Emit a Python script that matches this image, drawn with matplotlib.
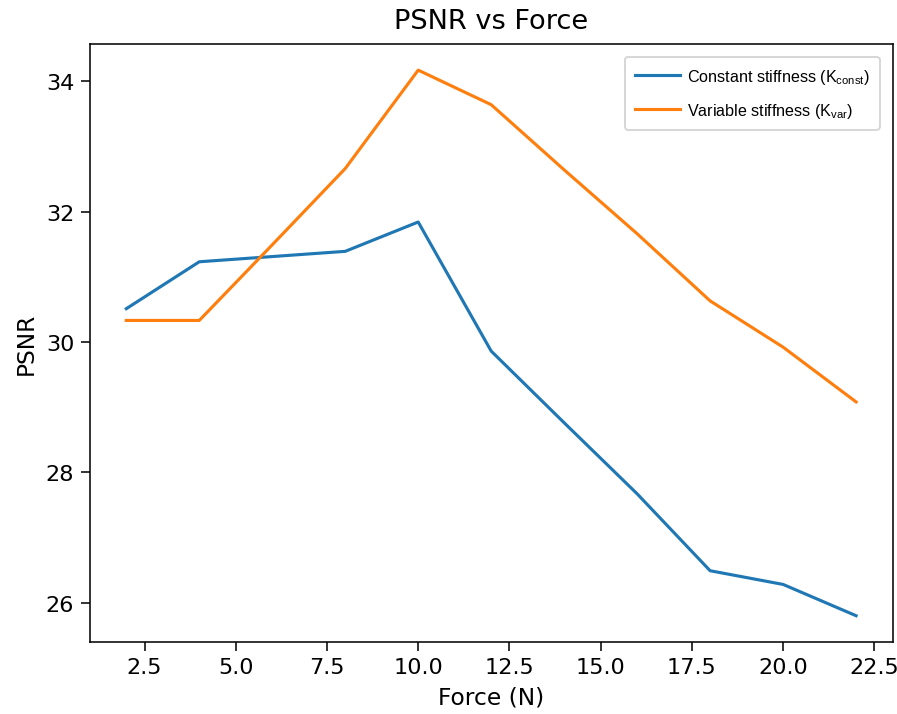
import matplotlib
matplotlib.use("Agg")
import matplotlib.pyplot as plt

# Applied force (N)
force = [2, 4, 6, 8, 10, 12, 14, 16, 18, 20, 22]

# PSNR for each stiffness model
psnr_const = [30.51, 31.23, 31.31, 31.39, 31.84, 29.86, 28.76, 27.67, 26.49, 26.28, 25.80]
psnr_var = [30.33, 30.33, 31.49, 32.66, 34.17, 33.64, 32.64, 31.66, 30.63, 29.92, 29.08]

label_const = "Constant stiffness (K$_{const}$)"
label_var = "Variable stiffness (K$_{var}$)"

plt.rcParams["mathtext.default"] = "regular"

fig = plt.figure(figsize=(6.414, 5.107), dpi=140)
ax = fig.add_axes([0.100, 0.101, 0.894, 0.836])

ax.plot(force, psnr_const, color="#1f77b4", linewidth=1.6, label=label_const)
ax.plot(force, psnr_var, color="#ff7f0e", linewidth=1.6, label=label_var)

ax.set_xlim(1.0, 23.0)
ax.set_ylim(25.4, 34.57)
ax.set_xticks([2.5, 5.0, 7.5, 10.0, 12.5, 15.0, 17.5, 20.0, 22.5])
ax.set_yticks([26, 28, 30, 32, 34])
ax.tick_params(labelsize=11.5, length=4.5)

ax.set_title("PSNR vs Force", fontsize=14, pad=8)
ax.set_xlabel("Force (N)", fontsize=12)
ax.set_ylabel("PSNR", fontsize=12)

ax.legend(loc="upper right", prop={"family": "Liberation Sans", "size": 8.3},
          handlelength=2.8, handletextpad=0.45, labelspacing=0.95,
          borderaxespad=0.8, borderpad=0.6)

fig.savefig("out.png", dpi=140)
